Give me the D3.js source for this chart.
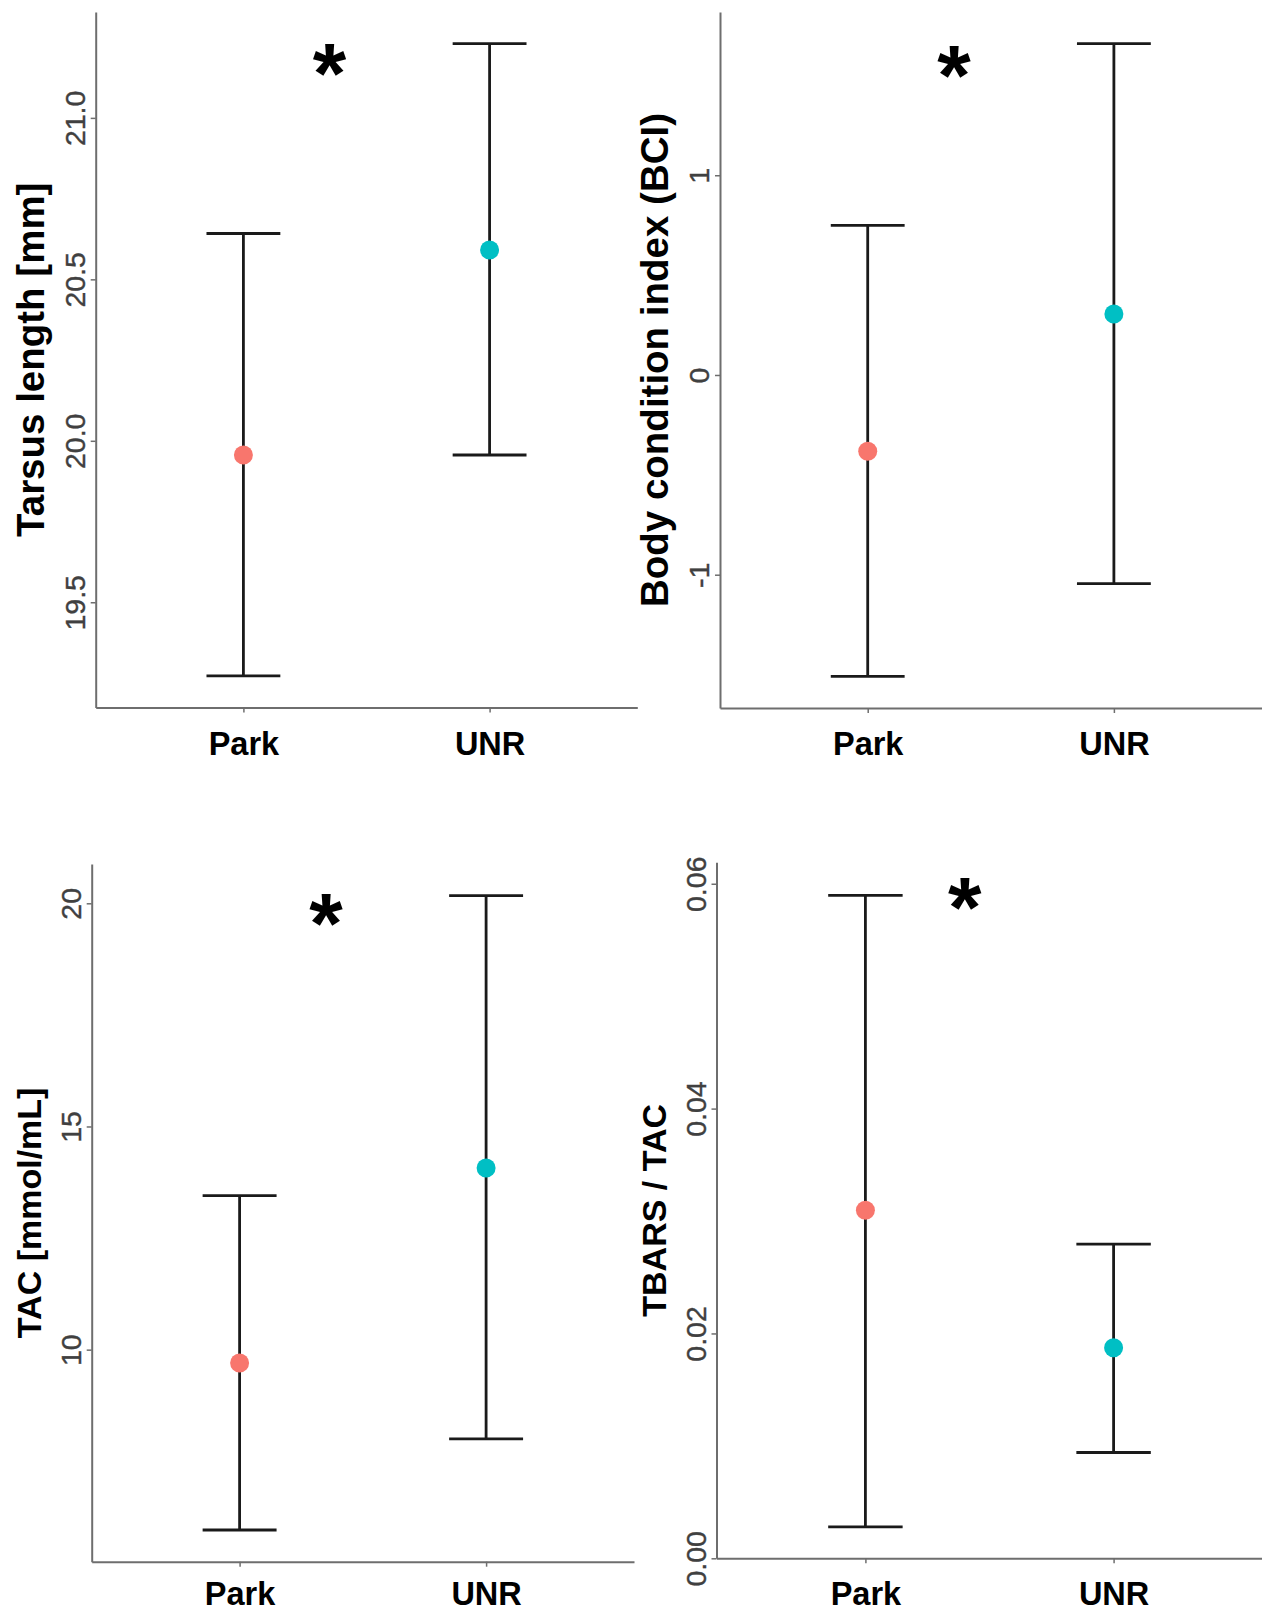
<!DOCTYPE html>
<html>
<head>
<meta charset="utf-8">
<script src="https://cdn.jsdelivr.net/npm/d3@7"></script>
<style>
  body { margin: 0; background: #fff; }
  svg { display: block; font-family: "Liberation Sans", Arial, sans-serif; }
</style>
</head>
<body>
<svg width="1262" height="1613"></svg>
<script>
// groups and their colours (ggplot defaults)
const groups = ["Park", "UNR"];
const groupColors = ["#F8766D", "#00BFC4"];

// Tarsus length [mm]
const tarsusMean = [19.956, 20.591];
const tarsusLow = [19.272, 19.956];
const tarsusHigh = [20.642, 21.230];
const tarsusTicks = [19.5, 20.0, 20.5, 21.0];

// Body condition index
const bciMean = [-0.382, 0.305];
const bciLow = [-1.509, -1.045];
const bciHigh = [0.749, 1.659];
const bciTicks = [-1, 0, 1];

// TAC [mmol/mL]
const tacMean = [9.70, 14.07];
const tacLow = [5.96, 8.0];
const tacHigh = [13.45, 20.17];
const tacTicks = [10, 15, 20];

// TBARS / TAC
const ratioMean = [0.03096, 0.01873];
const ratioLow = [0.0028, 0.00941];
const ratioHigh = [0.05896, 0.02794];
const ratioTicks = [0, 0.02, 0.04, 0.06];

// significance stars: value on y, offset from Park in category steps
const starY = [21.186, 1.576, 19.9, 0.05925];
const starOffset = [0.35, 0.35, 0.35, 0.4];

const svg = d3.select("svg");

const panels = [
    { title: "Tarsus length [mm]", mean: tarsusMean, low: tarsusLow, high: tarsusHigh, ticks: tarsusTicks, digits: 1,
      left: 95.7, right: 637.3, top: 12, bottom: 707.5, titleX: 44, titleSize: 38.5, labelY: 47 },
    { title: "Body condition index (BCI)", mean: bciMean, low: bciLow, high: bciHigh, ticks: bciTicks, digits: 0,
      left: 720, right: 1261.6, top: 12, bottom: 708, titleX: 668, titleSize: 38.5, labelY: 47 },
    { title: "TAC [mmol/mL]", mean: tacMean, low: tacLow, high: tacHigh, ticks: tacTicks, digits: 0,
      left: 91.7, right: 634, top: 864, bottom: 1561.7, titleX: 41, titleSize: 34, labelY: 43.5 },
    { title: "TBARS / TAC", mean: ratioMean, low: ratioLow, high: ratioHigh, ticks: ratioTicks, digits: 2, yMin: 0,
      left: 716.5, right: 1262.5, top: 862.3, bottom: 1558.3, titleX: 666, titleSize: 34, labelY: 46.5 }
];

panels.forEach((p, i) => drawPanel(p, i));

function drawPanel(p, i) {
    const g = svg.append("g");

    const x = d3.scalePoint().domain(groups).range([p.left, p.right]).padding(0.6);

    // ggplot style 5% expansion
    const lo = p.yMin !== undefined ? p.yMin : d3.min(p.low);
    const hi = d3.max(p.high);
    const pad = (hi - lo) * 0.05;
    const y = d3.scaleLinear()
        .domain([p.yMin !== undefined ? p.yMin : lo - pad, hi + pad])
        .range([p.bottom, p.top]);

    // y axis
    const yAxis = g.append("g")
        .attr("transform", `translate(${p.left},0)`)
        .call(d3.axisLeft(y).tickValues(p.ticks).tickSize(5).tickSizeOuter(0)
            .tickFormat(d => d.toFixed(p.digits)));
    yAxis.select(".domain").attr("stroke", "#6e6e6e").attr("stroke-width", 2);
    yAxis.selectAll(".tick line").attr("stroke", "#6e6e6e").attr("stroke-width", 1.5);
    yAxis.selectAll(".tick text")
        .attr("x", null).attr("dy", null)
        .attr("transform", "translate(-11,0) rotate(-90)")
        .attr("text-anchor", "middle")
        .attr("fill", "#404040")
        .attr("stroke", "#404040")
        .attr("stroke-width", 0.4)
        .style("font-size", "28.5px");

    // x axis
    const xAxis = g.append("g")
        .attr("transform", `translate(0,${p.bottom})`)
        .call(d3.axisBottom(x).tickSize(5).tickSizeOuter(0));
    xAxis.select(".domain").attr("stroke", "#6e6e6e").attr("stroke-width", 2);
    xAxis.selectAll(".tick line").attr("stroke", "#6e6e6e").attr("stroke-width", 1.5);
    xAxis.selectAll(".tick text")
        .attr("y", p.labelY).attr("dy", null)
        .attr("fill", "#000")
        .style("font-size", "32.5px")
        .style("font-weight", "bold");

    // y title
    g.append("text")
        .attr("transform", `translate(${p.titleX},${(p.top + p.bottom) / 2}) rotate(-90)`)
        .attr("text-anchor", "middle")
        .style("font-size", p.titleSize + "px")
        .style("font-weight", "bold")
        .text(p.title);

    const capHalf = x.step() * 0.15;

    // error bars
    const bars = g.append("g")
        .attr("stroke", "#1a1a1a")
        .attr("stroke-width", 2.8)
        .attr("fill", "none");

    bars.selectAll("line.v")
        .data(groups)
        .enter().append("line")
        .attr("x1", d => x(d))
        .attr("x2", d => x(d))
        .attr("y1", (d, j) => y(p.low[j]))
        .attr("y2", (d, j) => y(p.high[j]));

    bars.selectAll("line.top")
        .data(groups)
        .enter().append("line")
        .attr("x1", d => x(d) - capHalf)
        .attr("x2", d => x(d) + capHalf)
        .attr("y1", (d, j) => y(p.high[j]))
        .attr("y2", (d, j) => y(p.high[j]));

    bars.selectAll("line.bottom")
        .data(groups)
        .enter().append("line")
        .attr("x1", d => x(d) - capHalf)
        .attr("x2", d => x(d) + capHalf)
        .attr("y1", (d, j) => y(p.low[j]))
        .attr("y2", (d, j) => y(p.low[j]));

    // means
    g.append("g")
        .selectAll("circle")
        .data(groups)
        .enter().append("circle")
        .attr("cx", d => x(d))
        .attr("cy", (d, j) => y(p.mean[j]))
        .attr("r", 9.5)
        .attr("fill", (d, j) => groupColors[j]);

    // star
    const starSize = 86;
    g.append("text")
        .attr("x", x(groups[0]) + starOffset[i] * x.step())
        .attr("y", y(starY[i]) + starSize * 0.56 - 3)
        .attr("text-anchor", "middle")
        .style("font-size", starSize + "px")
        .style("font-weight", "bold")
        .text("*");
}
</script>
</body>
</html>
